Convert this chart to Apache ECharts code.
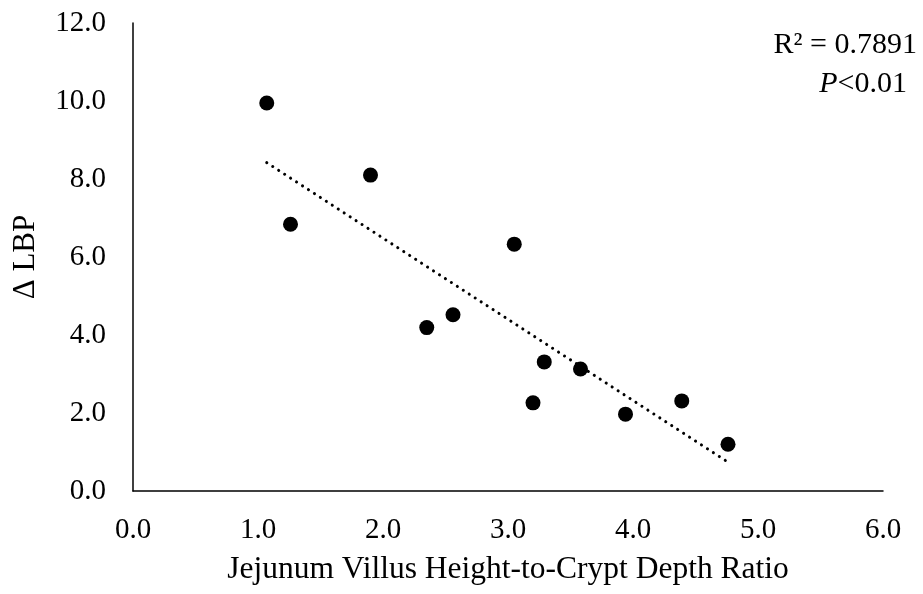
<!DOCTYPE html>
<html>
<head>
<meta charset="utf-8">
<script src="https://cdn.jsdelivr.net/npm/echarts@6/dist/echarts.min.js"></script>
<style>
  html, body { margin: 0; padding: 0; background: #fff; }
  #chart { width: 923px; height: 594px; }
</style>
</head>
<body>
<div id="chart"></div>
<script>
// Villus height-to-crypt depth ratio (x) vs change in LBP (y)
const ratioValues = [1.07, 1.26, 1.90, 2.35, 2.56, 3.05, 3.29, 3.20, 3.58, 3.94, 4.39, 4.76];
const lbpValues   = [9.95, 6.84, 8.10, 4.19, 4.52, 6.33, 3.31, 2.26, 3.13, 1.97, 2.31, 1.20];

// Linear trend line endpoints
const trendX = [1.07, 4.76];
const trendY = [8.42, 0.74];

// Axis ranges and tick spacing
const xTicks = { min: 0, max: 6, step: 1 };
const yTicks = { min: 0, max: 12, step: 2 };

const statLines = ['R² = 0.7891', '<0.01'];

const FONT = '"Liberation Serif", "Times New Roman", serif';

const points = ratioValues.map((x, i) => [x, lbpValues[i]]);
const trend = trendX.map((x, i) => [x, trendY[i]]);

const chart = echarts.init(document.getElementById('chart'), null, { renderer: 'canvas' });

const axisCommon = {
  axisLine: { show: true, onZero: false, lineStyle: { color: '#000', width: 1.5 } },
  axisTick: { show: false },
  splitLine: { show: false },
  axisLabel: {
    color: '#000', fontFamily: FONT, fontSize: 29,
    formatter: v => v.toFixed(1)
  },
  nameTextStyle: { color: '#000', fontFamily: FONT, fontSize: 31 }
};

chart.setOption({
  animation: false,
  backgroundColor: '#fff',
  grid: { left: 133, right: 40, top: 23, bottom: 103, containLabel: false, outerBoundsMode: 'none' },
  xAxis: Object.assign({}, axisCommon, {
    type: 'value',
    min: xTicks.min, max: xTicks.max, interval: xTicks.step,
    name: 'Jejunum Villus Height-to-Crypt Depth Ratio',
    nameLocation: 'middle', nameGap: 63,
    nameTextStyle: { color: '#000', fontFamily: FONT, fontSize: 31.5 },
    axisLabel: Object.assign({}, axisCommon.axisLabel, { margin: 25 })
  }),
  yAxis: Object.assign({}, axisCommon, {
    type: 'value',
    min: yTicks.min, max: yTicks.max, interval: yTicks.step,
    name: 'Δ LBP',
    nameLocation: 'middle', nameGap: 92,
    axisLabel: Object.assign({}, axisCommon.axisLabel, { margin: 27 })
  }),
  series: [
    {
      type: 'line',
      data: trend,
      showSymbol: false,
      symbol: 'none',
      lineStyle: { color: '#000', width: 3, type: [0.1, 7], cap: 'round', opacity: 1 },
      silent: true,
      z: 1
    },
    {
      type: 'scatter',
      data: points,
      symbol: 'circle',
      symbolSize: 15,
      itemStyle: { color: '#000', opacity: 1 },
      z: 2
    }
  ],
  graphic: [
    {
      type: 'text',
      right: 6, top: 30,
      style: {
        text: statLines[0],
        font: '30px ' + FONT,
        fill: '#000',
        textAlign: 'right'
      }
    },
    {
      type: 'text',
      right: 16, top: 69,
      style: {
        text: '{i|P}{n|' + statLines[1] + '}',
        fill: '#000',
        rich: {
          i: { fontFamily: FONT, fontSize: 30, fontStyle: 'italic', fill: '#000' },
          n: { fontFamily: FONT, fontSize: 30, fill: '#000' }
        }
      }
    }
  ]
});
</script>
</body>
</html>
